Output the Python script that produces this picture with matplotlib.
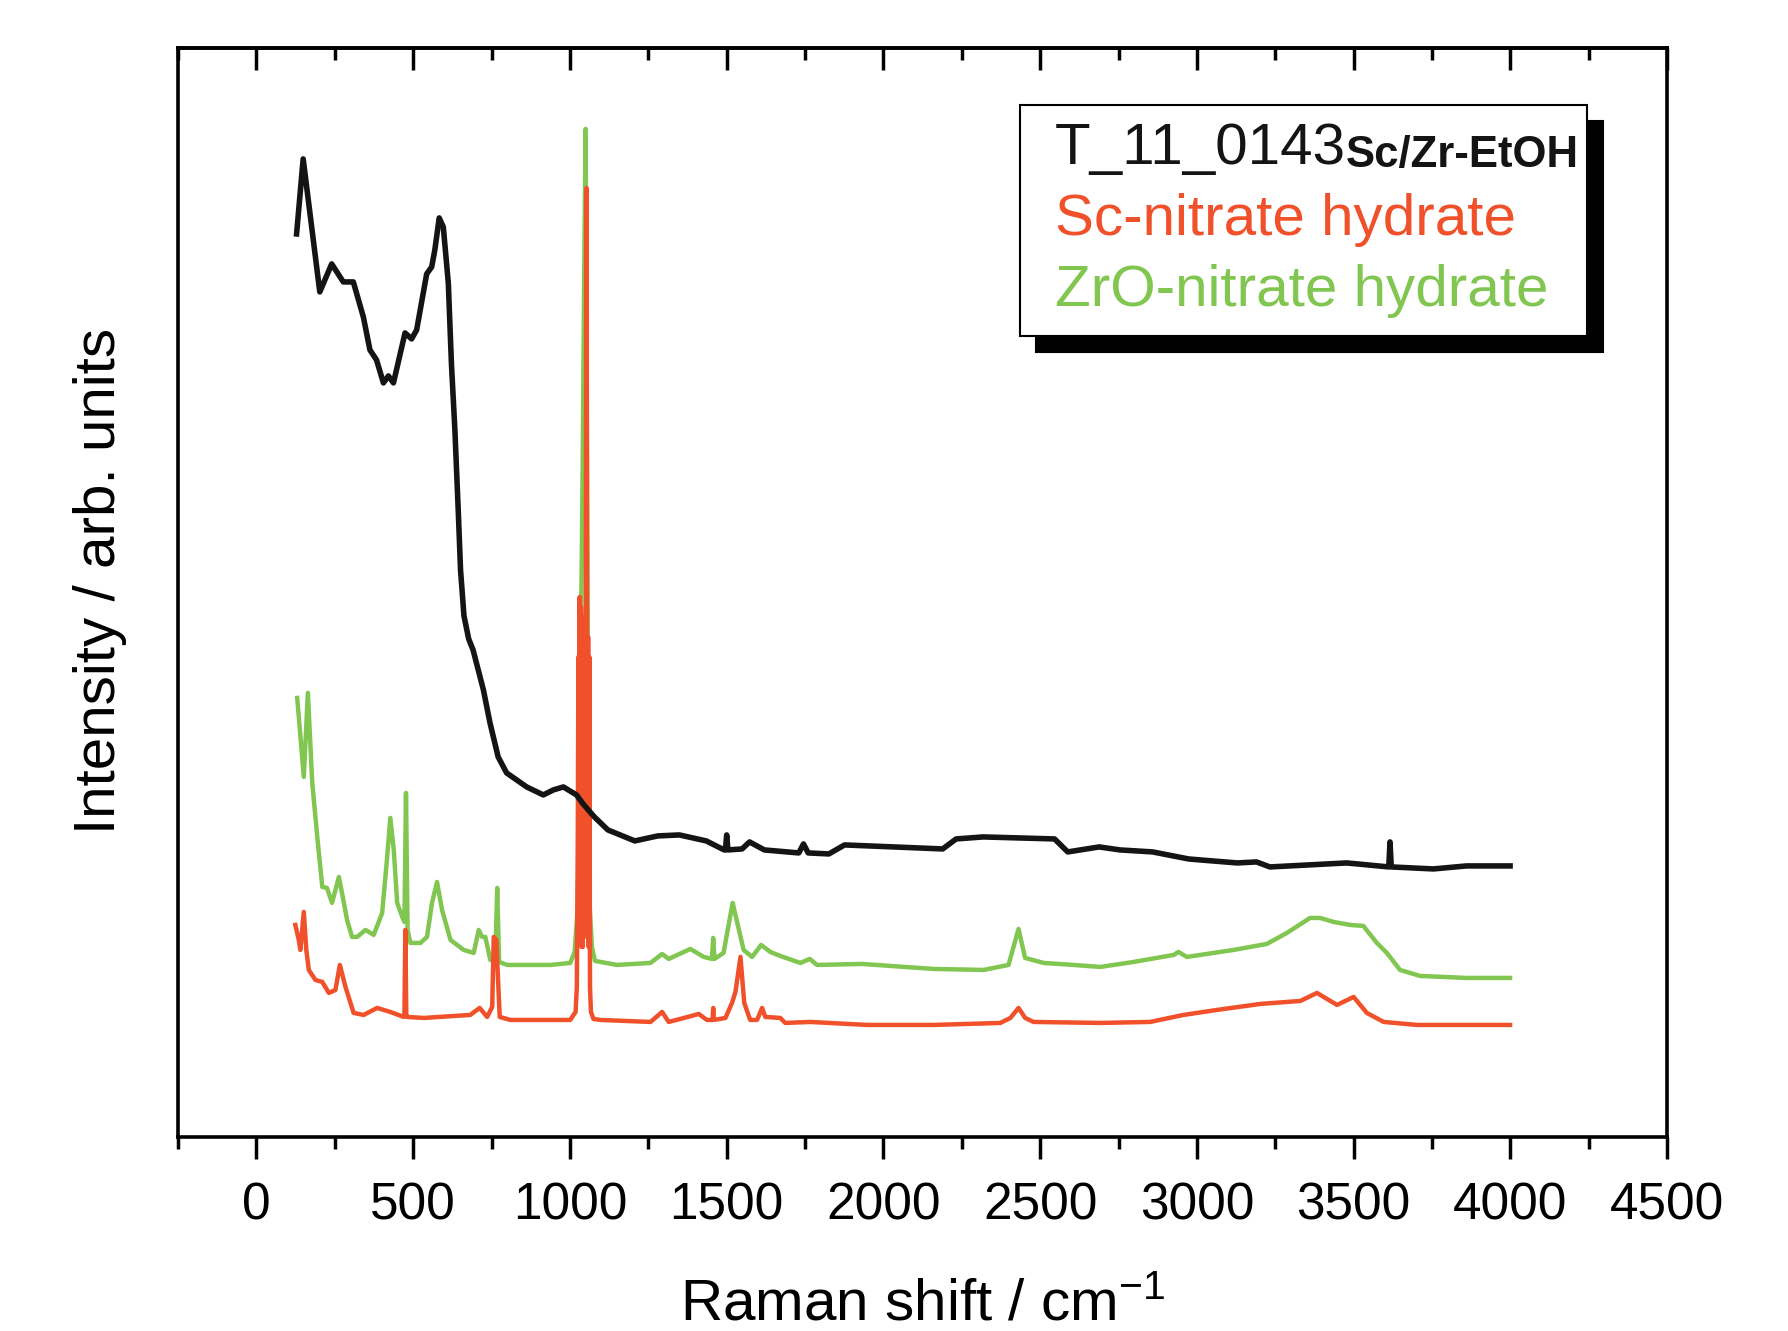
import numpy as np
import matplotlib.pyplot as plt
from matplotlib.lines import Line2D
from matplotlib.ticker import MultipleLocator

plt.rcParams['font.family'] = ['Liberation Sans', 'DejaVu Sans']
plt.rcParams['mathtext.fontset'] = 'custom'
plt.rcParams['mathtext.rm'] = 'Liberation Sans'
plt.rcParams['mathtext.it'] = 'Liberation Sans:italic'
plt.rcParams['mathtext.bf'] = 'Liberation Sans:bold'

muestra_x = [128, 149, 202, 240, 277, 309, 341, 362, 383, 405, 421, 437, 474, 495, 511,
             543, 559, 569, 583, 596, 612, 622, 633, 644, 651, 662, 677, 691, 724, 745,
             771, 798, 830, 862, 915, 947, 979, 1021, 1042, 1078, 1121, 1207, 1280, 1349,
             1435, 1492, 1496, 1500, 1504, 1549, 1573, 1620, 1730, 1745, 1760, 1826, 1876,
             2189, 2232, 2318, 2546, 2588, 2688, 2755, 2859, 2973, 3010, 3129, 3190, 3233,
             3478, 3612, 3616, 3620, 3754, 3860, 3999]
muestra_y = [903, 978, 845, 873, 855, 855, 820, 787, 777, 754, 761, 754, 804, 798, 807,
             863, 870, 887, 919, 910, 854, 773, 707, 624, 567, 521, 498, 487, 447, 414,
             380, 364, 357, 350, 342, 347, 350, 342, 333, 320, 307, 296, 301, 302,
             296, 287, 287, 302, 287, 288, 295, 287, 284, 293, 284, 283, 292,
             288, 298, 300, 298, 285, 290, 287, 285, 278, 277, 274, 275, 270,
             274, 270, 295, 270, 268, 271, 271]

sc_x = [124, 135, 140, 151, 159, 167, 188, 210, 231, 252, 266, 284, 310, 342, 385, 427,
        470, 472, 475, 478, 481, 534, 682, 712, 736, 752, 757, 765, 776, 810, 1001,
        1018, 1022, 1025, 1027, 1029, 1031, 1033, 1035, 1037, 1039, 1041, 1043, 1045,
        1047, 1049, 1053, 1056, 1058, 1060, 1062, 1064, 1067, 1075, 1097,
        1257, 1294, 1315, 1352, 1411, 1437, 1455, 1457, 1459,
        1496, 1517, 1528, 1544, 1556, 1575, 1597, 1613, 1623, 1671, 1687, 1767, 1948,
        2160, 2373, 2405, 2431, 2452, 2479, 2692, 2851, 2957, 3064, 3202, 3330, 3383,
        3447, 3500, 3542, 3596, 3702, 3999]
sc_y = [212, 197, 187, 225, 187, 167, 157, 155, 144, 147, 172, 150, 124, 122, 129, 125,
        120, 121, 207, 121, 120, 119, 122, 129, 120, 130, 200, 197, 120, 117, 117,
        125, 150, 300, 480, 200, 540, 200, 530, 190, 520, 190, 510, 200,
        500, 250, 949, 260, 500, 190, 480, 150, 125, 118, 117,
        115, 125, 115, 118, 123, 117, 117, 129, 117,
        119, 134, 145, 180, 134, 117, 117, 129, 120, 119, 114, 115, 112,
        112, 114, 119, 129, 119, 115, 114, 115, 122, 127, 133, 136, 144,
        132, 140, 124, 115, 112, 112]

zr_x = [130, 151, 164, 178, 194, 210, 225, 241, 263, 279, 289, 305, 321, 348, 374, 401,
        417, 427, 438, 449, 465, 472, 477, 482, 491, 523, 544, 560, 576, 592, 619, 661,
        693, 709, 720, 730, 746, 762, 768, 774, 800, 938, 1001, 1015, 1025, 1032, 1040,
        1046, 1050, 1054, 1058, 1063, 1070, 1080, 1150, 1257, 1294, 1315, 1384, 1427,
        1453, 1457, 1461, 1490, 1519, 1554, 1581, 1610, 1639, 1671, 1735, 1765, 1788,
        1932, 2160, 2320, 2399, 2431, 2452, 2511, 2607, 2692, 2798, 2926, 2941, 2968,
        3117, 3223, 3287, 3361, 3393, 3436, 3489, 3531, 3574, 3606, 3648, 3712, 3861, 3999]
zr_y = [439, 360, 444, 354, 300, 250, 249, 234, 260, 234, 217, 200, 200, 207, 202, 224,
        280, 319, 287, 234, 220, 215, 344, 207, 194, 194, 200, 234, 255, 227, 197, 187,
        184, 207, 200, 200, 177, 177, 249, 175, 172, 172, 174, 185, 230, 400, 650,
        880, 1008, 700, 400, 230, 190, 176, 172, 174, 183, 178, 188, 180,
        178, 199, 178, 184, 234, 187, 180, 192, 185, 181, 174, 178, 172,
        173, 168, 167, 172, 208, 179, 174, 172, 170, 175, 182, 185, 180,
        187, 193, 204, 219, 219, 215, 212, 211, 194, 184, 167, 161, 159, 159]

etiquetas = ['T_11_0143', 'Sc-nitrate hydrate', 'ZrO-nitrate hydrate']
subindice = 'Sc/Zr-EtOH'
colores = ['#141414', '#f0502a', '#80c650']

# Figura

fig = plt.figure(figsize=(17.88, 13.31), dpi=100)
ax = fig.add_axes([0.0996, 0.1458, 0.8328, 0.8182])

ax.plot(zr_x, zr_y, color=colores[2], lw=3.2, solid_joinstyle='round')
ax.plot(sc_x, sc_y, color=colores[1], lw=3.2, solid_joinstyle='round')
ax.plot(muestra_x, muestra_y, color=colores[0], lw=4.0, solid_joinstyle='round')

ax.set_xlim(-250, 4500)
ax.set_ylim(0, 1089)
ax.set_yticks([])

ax.xaxis.set_major_locator(MultipleLocator(500))
ax.xaxis.set_minor_locator(MultipleLocator(250))
ax.tick_params(axis='x', which='both', direction='out', width=2.5, labelsize=37, pad=16)
ax.tick_params(axis='x', which='major', length=16)
ax.tick_params(axis='x', which='minor', length=8.5)
for s in ax.spines.values():
    s.set_linewidth(2.6)

arriba = ax.secondary_xaxis('top')
arriba.xaxis.set_major_locator(MultipleLocator(500))
arriba.xaxis.set_minor_locator(MultipleLocator(250))
arriba.tick_params(which='both', direction='in', width=2.5, labeltop=False)
arriba.tick_params(which='major', length=16)
arriba.tick_params(which='minor', length=8.5)
arriba.spines['top'].set_linewidth(2.6)

ax.set_xlabel('Raman shift / cm$^{-1}$', fontsize=42, labelpad=34)
ax.set_ylabel('Intensity / arb. units', fontsize=42)
ax.yaxis.set_label_coords(-0.034, 0.511)

manijas = [Line2D([], [], color=c, lw=0) for c in colores]
leg = ax.legend(manijas, etiquetas, loc='upper left',
                bbox_to_anchor=(0.5655, 0.7355, 0.3808, 0.2122), mode='expand',
                borderaxespad=0, handlelength=0.3, handletextpad=0, borderpad=0.3,
                labelspacing=0.29, labelcolor=colores, fancybox=False, edgecolor='black',
                framealpha=1, fontsize=42,
                shadow={'ox': 11.5, 'oy': -11.5, 'color': 'black', 'alpha': 1})
leg.get_frame().set_linewidth(1.5)

ax.annotate(subindice, xy=(1, 0), xycoords=leg.get_texts()[0], ha='left', va='bottom',
            fontsize=31.5, fontweight='bold', color=colores[0], zorder=10,
            annotation_clip=False)

fig.savefig('out.png', dpi=100)
